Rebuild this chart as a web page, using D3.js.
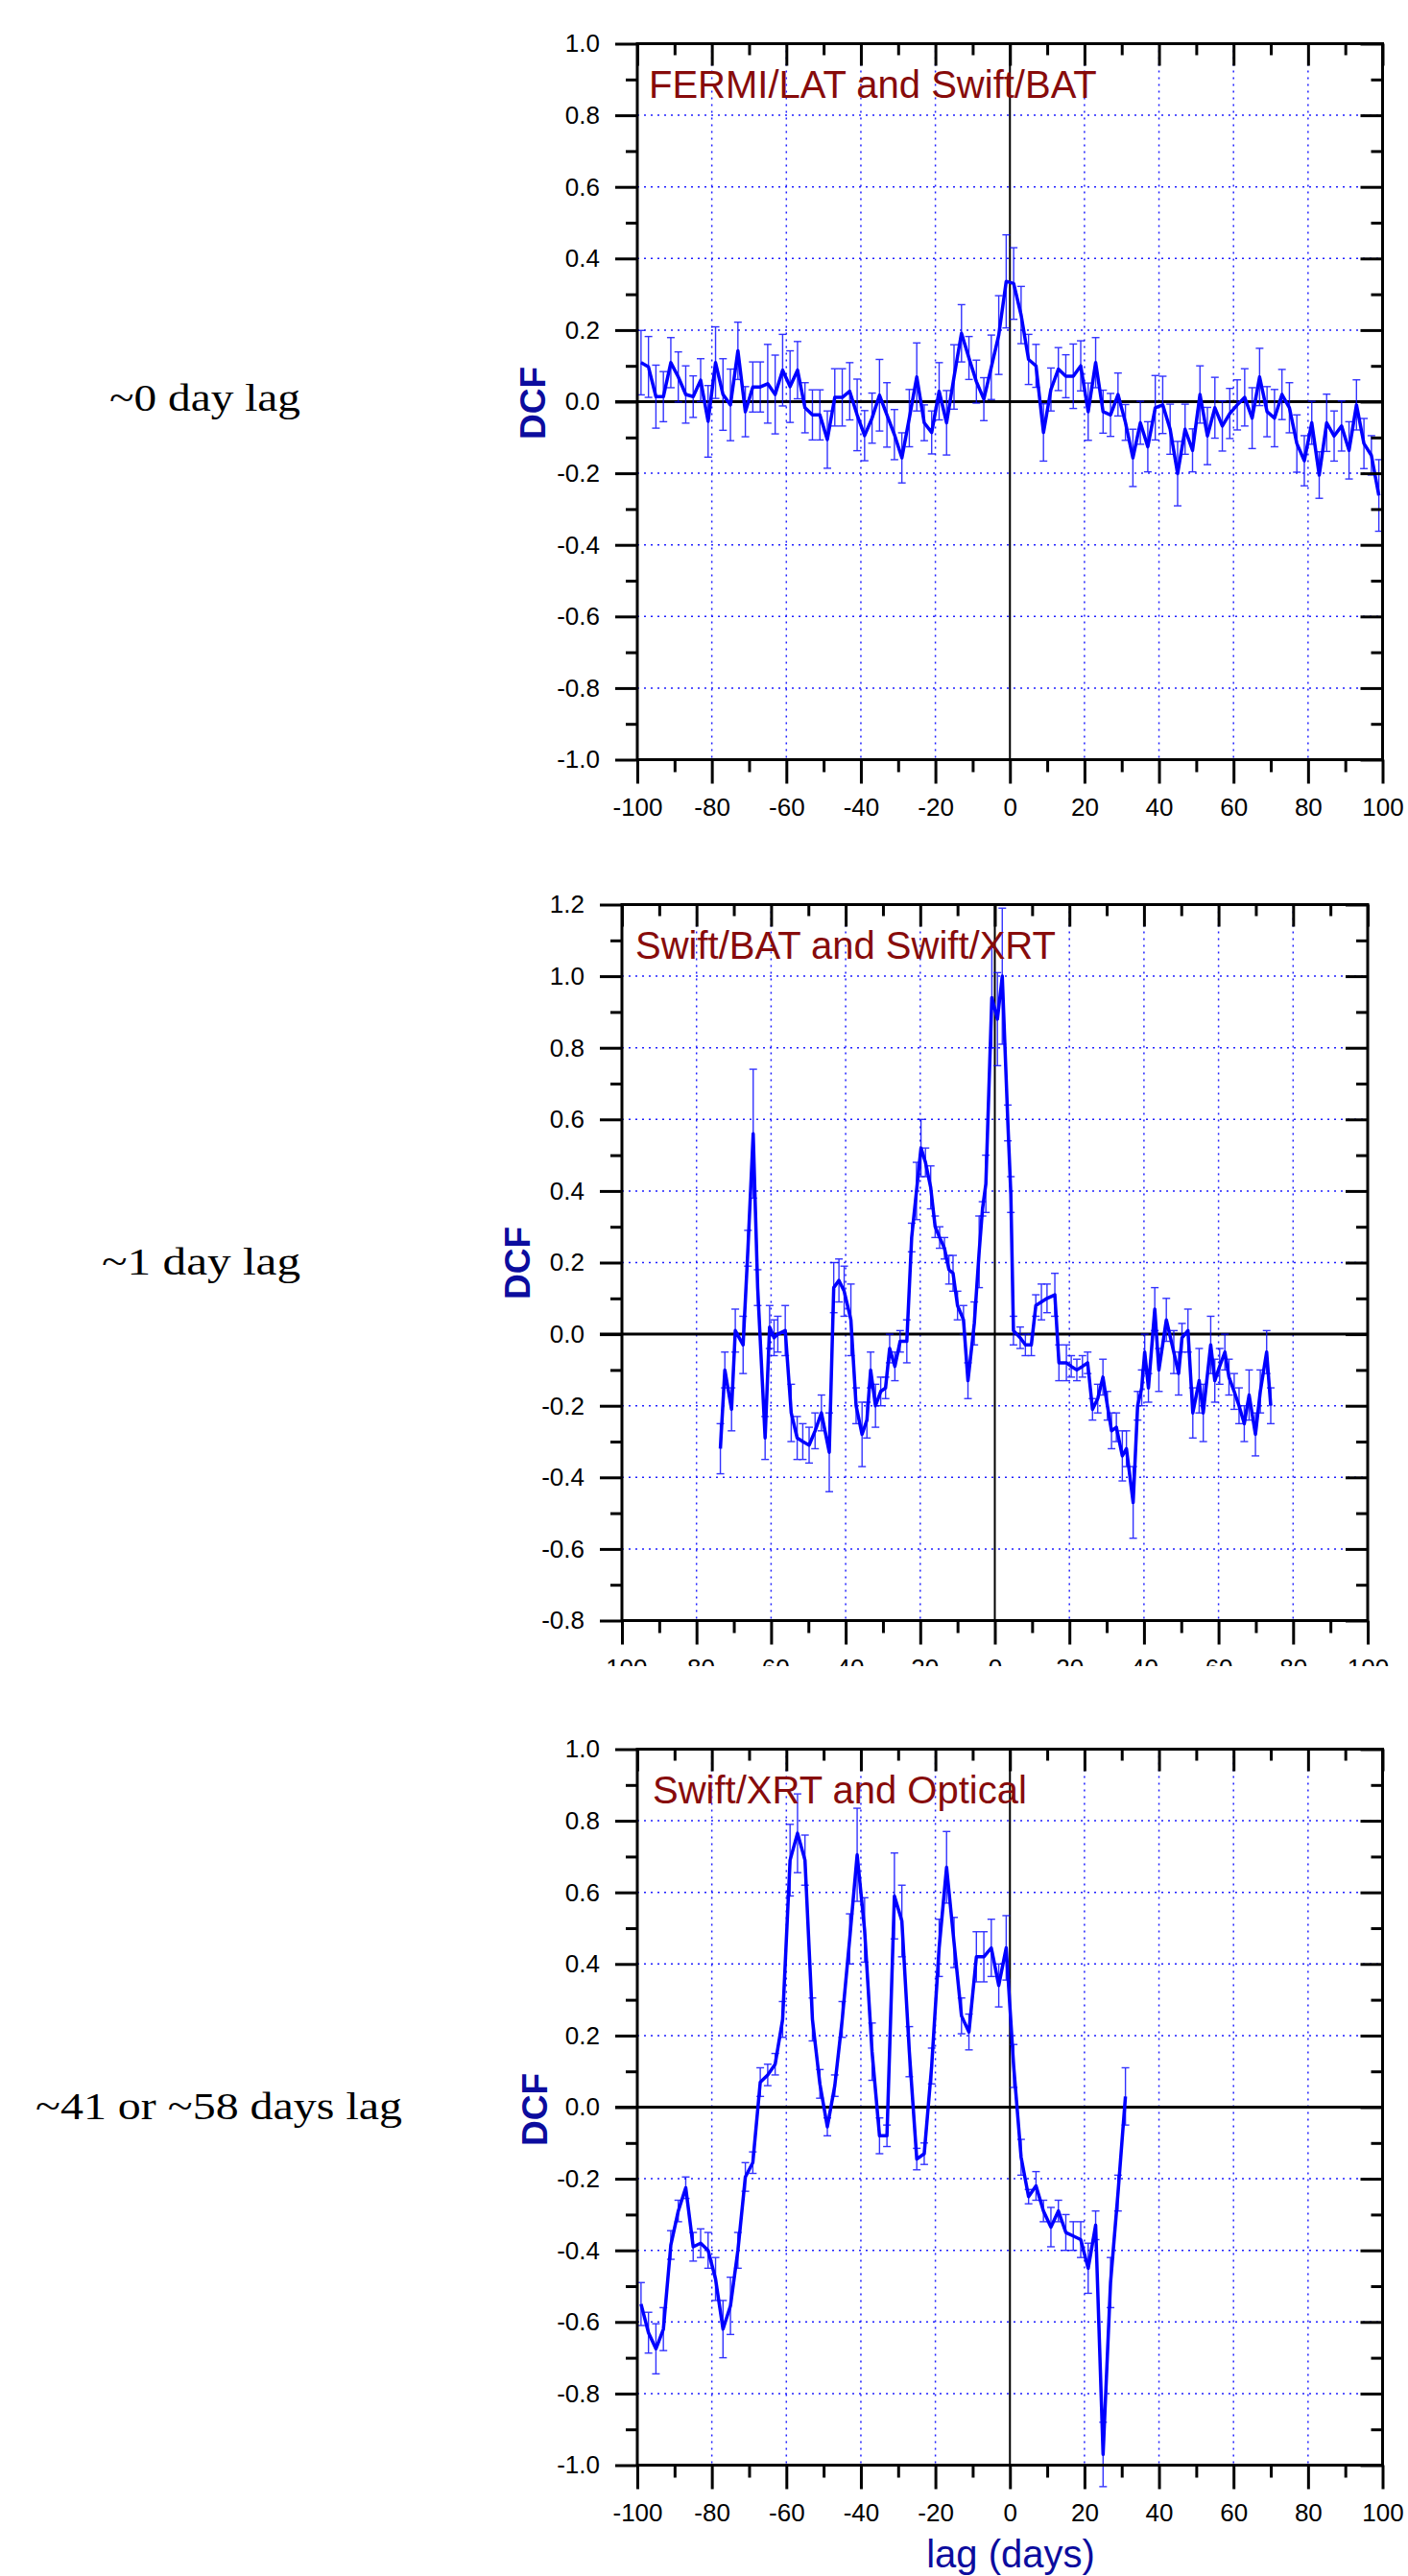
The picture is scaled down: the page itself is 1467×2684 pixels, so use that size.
<!DOCTYPE html>
<html>
<head>
<meta charset="utf-8">
<script src="https://cdn.jsdelivr.net/npm/d3@7/dist/d3.min.js"></script>
<style>
body { margin: 0; background: #fff; }
svg text { font-family: "Liberation Sans", Arial, sans-serif; }
</style>
</head>
<body>
<div id="chart"></div>
<script>
// ---- data ----
var xTicks = [-100, -80, -60, -40, -20, 0, 20, 40, 60, 80, 100];
var yTicksA = [-1.0, -0.8, -0.6, -0.4, -0.2, 0.0, 0.2, 0.4, 0.6, 0.8, 1.0];
var yTicksB = [-0.8, -0.6, -0.4, -0.2, 0.0, 0.2, 0.4, 0.6, 0.8, 1.0, 1.2];

var titles = ["FERMI/LAT and Swift/BAT", "Swift/BAT and Swift/XRT", "Swift/XRT and Optical"];
var lagNotes = ["~0 day lag", "~1 day lag", "~41 or ~58 days lag"];

// FERMI/LAT vs Swift/BAT
var lags1 = [-99, -97, -95, -93, -91, -89, -87, -85, -83, -81, -79, -77, -75, -73, -71, -69, -67, -65, -63, -61,
  -59, -57, -55, -53, -51, -49, -47, -45, -43, -41, -39, -37, -35, -33, -31, -29, -27, -25, -23, -21,
  -19, -17, -15, -13, -11, -9, -7, -5, -3, -1, 1, 3, 5, 7, 9, 11, 13, 15, 17, 19,
  21, 23, 25, 27, 29, 31, 33, 35, 37, 39, 41, 43, 45, 47, 49, 51, 53, 55, 57, 59,
  61, 63, 65, 67, 69, 71, 73, 75, 77, 79, 81, 83, 85, 87, 89, 91, 93, 95, 97, 99];
var dcf1 = [0.109, 0.097, 0.014, 0.014, 0.109, 0.069, 0.020, 0.014, 0.060, -0.055, 0.109, 0.020, -0.009, 0.142, -0.028, 0.041, 0.041, 0.050, 0.020, 0.088,
  0.042, 0.088, -0.017, -0.037, -0.037, -0.106, 0.012, 0.012, 0.029, -0.037, -0.095, -0.046, 0.018, -0.037, -0.092, -0.157, -0.046, 0.069, -0.059, -0.086,
  0.029, -0.059, 0.069, 0.191, 0.122, 0.056, 0.007, 0.096, 0.186, 0.336, 0.330, 0.242, 0.118, 0.100, -0.086, 0.034, 0.091, 0.071, 0.071, 0.100,
  -0.028, 0.109, -0.028, -0.037, 0.020, -0.058, -0.157, -0.059, -0.126, -0.017, -0.009, -0.077, -0.201, -0.077, -0.136, 0.020, -0.096, -0.017, -0.068, -0.033,
  -0.009, 0.012, -0.046, 0.069, -0.028, -0.046, 0.020, -0.017, -0.117, -0.165, -0.059, -0.205, -0.059, -0.096, -0.068, -0.136, -0.009, -0.117, -0.150, -0.262];
var err1 = [0.09, 0.085, 0.088, 0.07, 0.07, 0.07, 0.08, 0.058, 0.06, 0.10, 0.10, 0.10, 0.10, 0.08, 0.07, 0.07, 0.07, 0.11, 0.11, 0.10,
  0.10, 0.08, 0.07, 0.07, 0.07, 0.08, 0.08, 0.08, 0.08, 0.10, 0.07, 0.07, 0.10, 0.09, 0.07, 0.07, 0.08, 0.095, 0.05, 0.06,
  0.08, 0.09, 0.09, 0.08, 0.06, 0.06, 0.06, 0.09, 0.11, 0.13, 0.10, 0.08, 0.07, 0.06, 0.08, 0.06, 0.06, 0.06, 0.09, 0.07,
  0.08, 0.07, 0.06, 0.06, 0.06, 0.05, 0.08, 0.06, 0.07, 0.09, 0.08, 0.07, 0.09, 0.07, 0.06, 0.08, 0.08, 0.085, 0.07, 0.07,
  0.07, 0.08, 0.085, 0.08, 0.07, 0.08, 0.07, 0.07, 0.08, 0.07, 0.06, 0.065, 0.08, 0.07, 0.07, 0.08, 0.07, 0.07, 0.055, 0.10];

// Swift/BAT vs Swift/XRT
var lags2 = [-73.6, -72.4, -70.6, -69.6, -67.5, -66.2, -64.8, -63.6, -61.6, -60.4, -59.2, -58.2, -56.2, -54.6, -53.0, -51.5, -49.8, -48.2, -46.5, -44.4,
  -43.2, -41.8, -40.4, -38.6, -37.2, -35.6, -34.3, -33.3, -32.0, -30.6, -29.3, -28.2, -26.8, -25.4, -23.6, -22.3, -21.0, -19.8, -18.6, -17.2,
  -16.0, -14.8, -13.5, -12.3, -11.2, -10.0, -8.4, -7.2, -5.5, -4.2, -3.3, -2.4, -0.8, 0.7, 2.0, 3.5, 4.3, 5.0, 6.8, 8.2,
  9.8, 11.0, 12.5, 14.0, 16.1, 17.2, 19.2, 20.5, 22.0, 23.5, 24.9, 26.2, 27.6, 29.0, 30.2, 31.3, 32.6, 34.2, 35.3, 37.1,
  38.3, 39.4, 40.2, 41.2, 42.9, 44.0, 46.0, 48.0, 49.3, 50.2, 51.8, 53.1, 54.8, 55.9, 57.9, 59.0, 60.3, 61.7, 62.8, 64.2,
  65.5, 66.9, 68.2, 69.9, 71.2, 72.9, 74.0];
var dcf2 = [-0.32, -0.10, -0.21, 0.01, -0.03, 0.24, 0.56, 0.13, -0.29, 0.02, -0.01, 0.00, 0.01, -0.22, -0.29, -0.30, -0.31, -0.27, -0.22, -0.33,
  0.13, 0.15, 0.12, 0.04, -0.20, -0.28, -0.24, -0.10, -0.20, -0.16, -0.15, -0.04, -0.09, -0.02, -0.02, 0.27, 0.40, 0.52, 0.48, 0.41,
  0.30, 0.27, 0.24, 0.18, 0.17, 0.08, 0.04, -0.13, 0.03, 0.23, 0.35, 0.42, 0.94, 0.88, 1.00, 0.59, 0.39, 0.01, -0.01, -0.03,
  -0.03, 0.08, 0.09, 0.10, 0.11, -0.08, -0.08, -0.09, -0.10, -0.09, -0.08, -0.21, -0.18, -0.12, -0.20, -0.27, -0.26, -0.34, -0.32, -0.47,
  -0.20, -0.15, -0.05, -0.15, 0.07, -0.10, 0.04, -0.05, -0.11, -0.01, 0.01, -0.22, -0.13, -0.22, -0.03, -0.13, -0.09, -0.05, -0.12, -0.16,
  -0.20, -0.25, -0.17, -0.28, -0.16, -0.05, -0.20];
var err2 = [0.07, 0.05, 0.06, 0.06, 0.08, 0.05, 0.18, 0.05, 0.06, 0.06, 0.05, 0.05, 0.07, 0.08, 0.06, 0.05, 0.05, 0.05, 0.05, 0.11,
  0.07, 0.06, 0.07, 0.10, 0.05, 0.09, 0.05, 0.05, 0.06, 0.04, 0.03, 0.04, 0.04, 0.03, 0.06, 0.04, 0.08, 0.08, 0.04, 0.06,
  0.03, 0.03, 0.03, 0.04, 0.05, 0.04, 0.04, 0.05, 0.06, 0.10, 0.02, 0.08, 0.14, 0.13, 0.19, 0.05, 0.05, 0.04, 0.03, 0.03,
  0.03, 0.03, 0.05, 0.04, 0.06, 0.05, 0.05, 0.03, 0.03, 0.03, 0.03, 0.03, 0.04, 0.05, 0.04, 0.05, 0.04, 0.07, 0.05, 0.10,
  0.04, 0.05, 0.05, 0.04, 0.06, 0.06, 0.06, 0.06, 0.06, 0.04, 0.06, 0.07, 0.09, 0.08, 0.08, 0.06, 0.05, 0.05, 0.05, 0.05,
  0.05, 0.05, 0.07, 0.06, 0.06, 0.06, 0.05];

// Swift/XRT vs Optical
var lags3 = [-99, -97, -95, -93, -91, -89, -87, -85, -83, -81, -79, -77, -75, -73, -71, -69, -67, -65, -63, -61,
  -59, -57, -55, -53, -51, -49, -47, -45, -43, -41, -39, -37, -35, -33, -31, -29, -27, -25, -23, -21,
  -19, -17, -15, -13, -11, -9, -7, -5, -3, -1, 1, 3, 5, 7, 9, 11, 13, 15, 17, 19,
  21, 23, 25, 27, 29, 31];
var dcf3 = [-0.55, -0.63, -0.675, -0.62, -0.385, -0.29, -0.225, -0.39, -0.38, -0.40, -0.48, -0.62, -0.555, -0.40, -0.195, -0.155, 0.07, 0.09, 0.12, 0.245,
  0.69, 0.765, 0.69, 0.245, 0.065, -0.055, 0.06, 0.245, 0.47, 0.705, 0.495, 0.155, -0.08, -0.08, 0.59, 0.52, 0.155, -0.145, -0.13, 0.115,
  0.445, 0.67, 0.46, 0.255, 0.21, 0.42, 0.42, 0.445, 0.34, 0.445, 0.115, -0.14, -0.25, -0.22, -0.29, -0.335, -0.29, -0.35, -0.36, -0.37,
  -0.45, -0.33, -0.97, -0.49, -0.24, 0.03];
var err3 = [0.06, 0.057, 0.07, 0.06, 0.04, 0.03, 0.03, 0.04, 0.04, 0.05, 0.06, 0.08, 0.08, 0.05, 0.04, 0.03, 0.04, 0.03, 0.03, 0.05,
  0.10, 0.11, 0.07, 0.06, 0.04, 0.025, 0.03, 0.05, 0.07, 0.13, 0.09, 0.08, 0.05, 0.03, 0.12, 0.10, 0.07, 0.03, 0.03, 0.05,
  0.08, 0.10, 0.07, 0.05, 0.05, 0.07, 0.07, 0.08, 0.06, 0.09, 0.06, 0.05, 0.02, 0.04, 0.03, 0.055, 0.03, 0.05, 0.04, 0.05,
  0.07, 0.04, 0.09, 0.07, 0.05, 0.08];

// ---- layout ----
var W = 1467, H = 2684;
var gridBlue = "#1f1fff";
var dataBlue = "#0000ff";
var labelBlue = "#0c0c9e";
var titleRed = "#870b0b";

var panels = [
  {lags: lags1, dcf: dcf1, err: err1, yTicks: yTicksA, left: 664, right: 1440.5, top: 45.5, bottom: 791.5,
   titleX: 676, titleY: 102, dcfX: 568, dcfY: 420, noteX: 313, noteY: 428, noteW: 199},
  {lags: lags2, dcf: dcf2, err: err2, yTicks: yTicksB, left: 648, right: 1425, top: 942.5, bottom: 1688.5,
   titleX: 662, titleY: 999, dcfX: 552, dcfY: 1316, noteX: 313, noteY: 1328, noteW: 207, clipLabels: 1736},
  {lags: lags3, dcf: dcf3, err: err3, yTicks: yTicksA, left: 664, right: 1440.5, top: 1822.5, bottom: 2568.5,
   titleX: 680, titleY: 1879, dcfX: 570, dcfY: 2198, noteX: 419, noteY: 2208, noteW: 382}
];

var svg = d3.select("#chart")
  .append("svg")
  .attr("width", W)
  .attr("height", H)
  .style("display", "block");

svg.append("rect").attr("width", W).attr("height", H).attr("fill", "#fff");

var defs = svg.append("defs");

function fmtY(d) { return d.toFixed(1); }
function fmtX(d) { return String(d); }

function drawPanel(p, i) {
  var x = d3.scaleLinear().domain([-100, 100]).range([p.left, p.right]);
  var yMin = p.yTicks[0], yMax = p.yTicks[p.yTicks.length - 1];
  var y = d3.scaleLinear().domain([yMin, yMax]).range([p.bottom, p.top]);

  var g = svg.append("g").attr("class", "panel" + i);

  // dotted grid
  var gx = xTicks.filter(function (d) { return d > -100 && d < 100 && d !== 0; });
  var gy = p.yTicks.filter(function (d) { return d > yMin && d < yMax && Math.abs(d) > 1e-9; });
  g.selectAll(".vgrid").data(gx).enter().append("line")
    .attr("x1", function (d) { return x(d); }).attr("x2", function (d) { return x(d); })
    .attr("y1", p.top).attr("y2", p.bottom)
    .attr("stroke", gridBlue).attr("stroke-width", 1.5).attr("stroke-dasharray", "2,5");
  g.selectAll(".hgrid").data(gy).enter().append("line")
    .attr("x1", p.left).attr("x2", p.right)
    .attr("y1", function (d) { return y(d); }).attr("y2", function (d) { return y(d); })
    .attr("stroke", gridBlue).attr("stroke-width", 1.5).attr("stroke-dasharray", "2,5");

  // zero lines
  g.append("line").attr("x1", x(0)).attr("x2", x(0)).attr("y1", p.top).attr("y2", p.bottom)
    .attr("stroke", "#000").attr("stroke-width", 2);
  g.append("line").attr("x1", p.left - 23).attr("x2", p.right).attr("y1", y(0)).attr("y2", y(0))
    .attr("stroke", "#000").attr("stroke-width", 3);

  var pts = p.lags.map(function (d, k) { return {lag: d, v: p.dcf[k], e: p.err[k]}; });

  // error bars
  var eb = g.append("g").attr("stroke", dataBlue).attr("stroke-width", 1.4).attr("opacity", 0.8);
  eb.selectAll(".bar").data(pts).enter().append("line")
    .attr("x1", function (d) { return x(d.lag); }).attr("x2", function (d) { return x(d.lag); })
    .attr("y1", function (d) { return y(d.v - d.e); }).attr("y2", function (d) { return y(d.v + d.e); });
  eb.selectAll(".capT").data(pts).enter().append("line")
    .attr("x1", function (d) { return x(d.lag) - 4; }).attr("x2", function (d) { return x(d.lag) + 4; })
    .attr("y1", function (d) { return y(d.v + d.e); }).attr("y2", function (d) { return y(d.v + d.e); });
  eb.selectAll(".capB").data(pts).enter().append("line")
    .attr("x1", function (d) { return x(d.lag) - 4; }).attr("x2", function (d) { return x(d.lag) + 4; })
    .attr("y1", function (d) { return y(d.v - d.e); }).attr("y2", function (d) { return y(d.v - d.e); });

  var line = d3.line().x(function (d) { return x(d.lag); }).y(function (d) { return y(d.v); });
  g.append("path").datum(pts).attr("d", line)
    .attr("fill", "none").attr("stroke", dataBlue).attr("stroke-width", 3.5)
    .attr("stroke-linejoin", "round");

  // axes
  var xMinor = d3.range(-90, 100, 20);
  var yMinor = p.yTicks.slice(0, -1).map(function (d, k) { return (d + p.yTicks[k + 1]) / 2; });

  var left = g.append("g").attr("transform", "translate(" + p.left + ",0)")
    .call(d3.axisLeft(y).tickValues(p.yTicks).tickSize(23).tickPadding(16).tickFormat(fmtY));
  var leftMinor = g.append("g").attr("transform", "translate(" + p.left + ",0)")
    .call(d3.axisLeft(y).tickValues(yMinor).tickSize(12).tickFormat(""));
  var right = g.append("g").attr("transform", "translate(" + p.right + ",0)")
    .call(d3.axisRight(y).tickValues(p.yTicks).tickSize(-23).tickFormat(""));
  var rightMinor = g.append("g").attr("transform", "translate(" + p.right + ",0)")
    .call(d3.axisRight(y).tickValues(yMinor).tickSize(-12).tickFormat(""));
  var top = g.append("g").attr("transform", "translate(0," + p.top + ")")
    .call(d3.axisTop(x).tickValues(xTicks).tickSize(-23).tickFormat(""));
  var topMinor = g.append("g").attr("transform", "translate(0," + p.top + ")")
    .call(d3.axisTop(x).tickValues(xMinor).tickSize(-12).tickFormat(""));
  var bottom = g.append("g").attr("transform", "translate(0," + p.bottom + ")")
    .call(d3.axisBottom(x).tickValues(xTicks).tickSize(25).tickPadding(15).tickFormat(fmtX));
  var bottomMinor = g.append("g").attr("transform", "translate(0," + p.bottom + ")")
    .call(d3.axisBottom(x).tickValues(xMinor).tickSize(13).tickFormat(""));

  [left, leftMinor, right, rightMinor, top, topMinor, bottom, bottomMinor].forEach(function (a) {
    a.select(".domain").remove();
    a.selectAll(".tick line").attr("stroke", "#000").attr("stroke-width", 3);
    a.selectAll(".tick text").attr("fill", "#000")
      .style("font-family", "'Liberation Sans', Arial, sans-serif").style("font-size", "26px");
  });

  if (p.clipLabels) {
    defs.append("clipPath").attr("id", "clip" + i)
      .append("rect").attr("x", 0).attr("y", 0).attr("width", W).attr("height", p.clipLabels - p.bottom);
    bottom.attr("clip-path", "url(#clip" + i + ")");
  }

  // frame
  g.append("rect").attr("x", p.left).attr("y", p.top)
    .attr("width", p.right - p.left).attr("height", p.bottom - p.top)
    .attr("fill", "none").attr("stroke", "#000").attr("stroke-width", 3);

  g.append("text").attr("x", p.titleX).attr("y", p.titleY)
    .attr("fill", titleRed).style("font-size", "40px")
    .text(titles[i]);

  g.append("text").attr("transform", "translate(" + p.dcfX + "," + p.dcfY + ") rotate(-90)")
    .attr("text-anchor", "middle").attr("fill", labelBlue)
    .style("font-size", "37px").style("font-weight", "bold")
    .text("DCF");

  g.append("text").attr("x", p.noteX - p.noteW).attr("y", p.noteY)
    .attr("textLength", p.noteW).attr("lengthAdjust", "spacingAndGlyphs")
    .attr("fill", "#000")
    .style("font-family", "'Liberation Serif', 'Times New Roman', serif").style("font-size", "39px")
    .text(lagNotes[i]);
}

panels.forEach(drawPanel);

svg.append("text").attr("x", 1053).attr("y", 2675)
  .attr("text-anchor", "middle").attr("fill", labelBlue).style("font-size", "40px")
  .text("lag (days)");
</script>
</body>
</html>
